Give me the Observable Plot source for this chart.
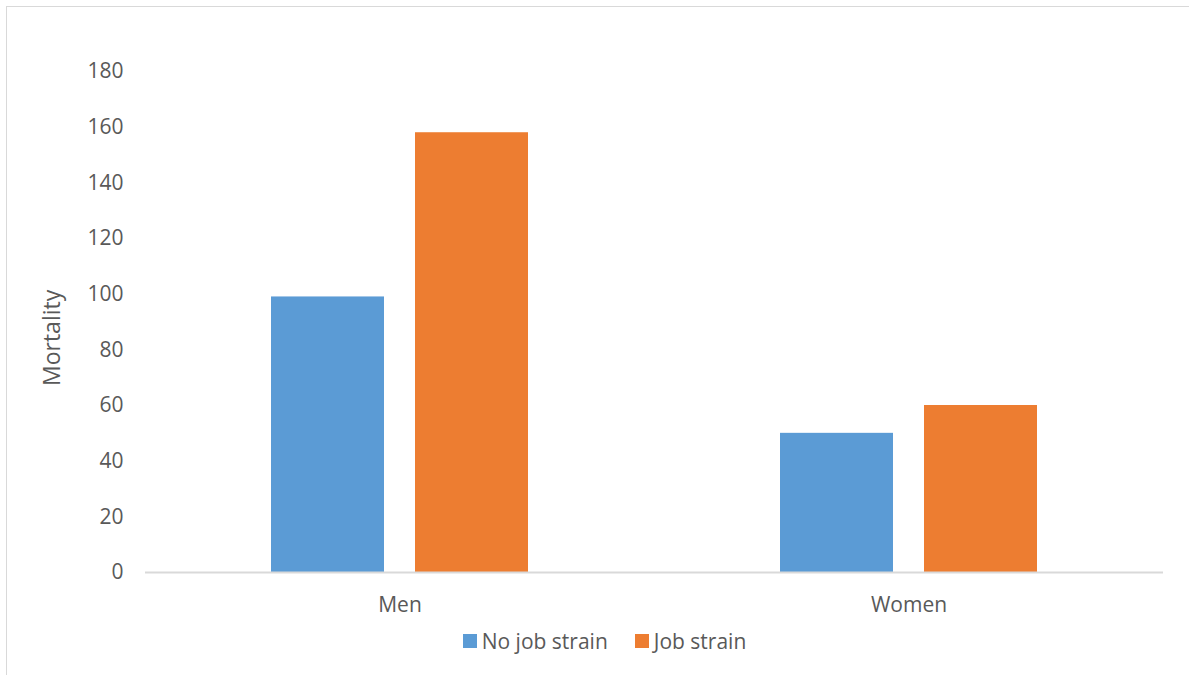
<!DOCTYPE html>
<html>
<head>
<meta charset="utf-8">
<script src="https://cdn.jsdelivr.net/npm/d3@7"></script>
<script src="https://cdn.jsdelivr.net/npm/@observablehq/plot@0.6"></script>
<style>
  html, body { margin: 0; padding: 0; background: #fff; overflow: hidden; }
  body { width: 1189px; height: 675px; position: relative; font-family: "Open Sans", sans-serif; }
  #frame { position: absolute; left: 6px; top: 6px; width: 1300px; height: 800px; border: 1.5px solid #d9d9d9; box-sizing: border-box; }
  #chart { position: absolute; left: 0; top: 0; }
  #legend { position: absolute; left: 0; top: 621px; width: 1189px; height: 40px; display: flex; justify-content: center; align-items: center; gap: 27px; font-size: 21px; color: #595959; padding-left: 20px; box-sizing: border-box; }
  #legend .item { display: flex; align-items: center; gap: 5px; }
  #legend .sw { width: 14px; height: 14px; display: inline-block; }
</style>
</head>
<body>
<div id="frame"></div>
<div id="chart"></div>
<div id="legend"></div>
<script>
// Mortality by sex and job strain
const groups = ["Men", "Women"];
const series = ["No job strain", "Job strain"];
const noJobStrain = [99, 50];
const jobStrain = [158, 60];
const colors = ["#5B9BD5", "#ED7D31"];
const yTicks = [0, 20, 40, 60, 80, 100, 120, 140, 160, 180];
const yTitle = "Mortality";

const rows = groups.flatMap((g, i) => [
  {group: g, series: series[0], value: noJobStrain[i]},
  {group: g, series: series[1], value: jobStrain[i]}
]);

const textColor = "#595959";

const chart = Plot.plot({
  width: 1189,
  height: 620,
  marginLeft: 144,
  marginRight: 26,
  marginTop: 71,
  marginBottom: 48,
  style: {fontFamily: "Open Sans, sans-serif", fontSize: "21px", color: textColor, background: "transparent"},
  fx: {domain: groups, paddingInner: 0, paddingOuter: 0, label: null, tickSize: 0, tickPadding: 25},
  x: {domain: series, paddingInner: 0.214, paddingOuter: 0.864, axis: null},
  y: {domain: [0, 180], ticks: yTicks, tickSize: 0, tickPadding: 22, label: null},
  color: {domain: series, range: colors},
  marks: [
    Plot.barY(rows, {fx: "group", x: "series", y: "value", fill: "series"}),
    Plot.ruleY([0], {stroke: "#d9d9d9", strokeWidth: 1.8}),
    Plot.text([yTitle], {
      text: d => d,
      frameAnchor: "left",
      facetAnchor: "left",
      rotate: -90,
      dx: -93,
      dy: 64,
      fontSize: 23,
      fill: textColor
    })
  ]
});
document.getElementById("chart").appendChild(chart);

// Legend below the plot
const legend = document.getElementById("legend");
series.forEach((s, i) => {
  const item = document.createElement("span");
  item.className = "item";
  const sw = document.createElement("span");
  sw.className = "sw";
  sw.style.background = colors[i];
  item.appendChild(sw);
  item.appendChild(document.createTextNode(s));
  legend.appendChild(item);
});
</script>
</body>
</html>
